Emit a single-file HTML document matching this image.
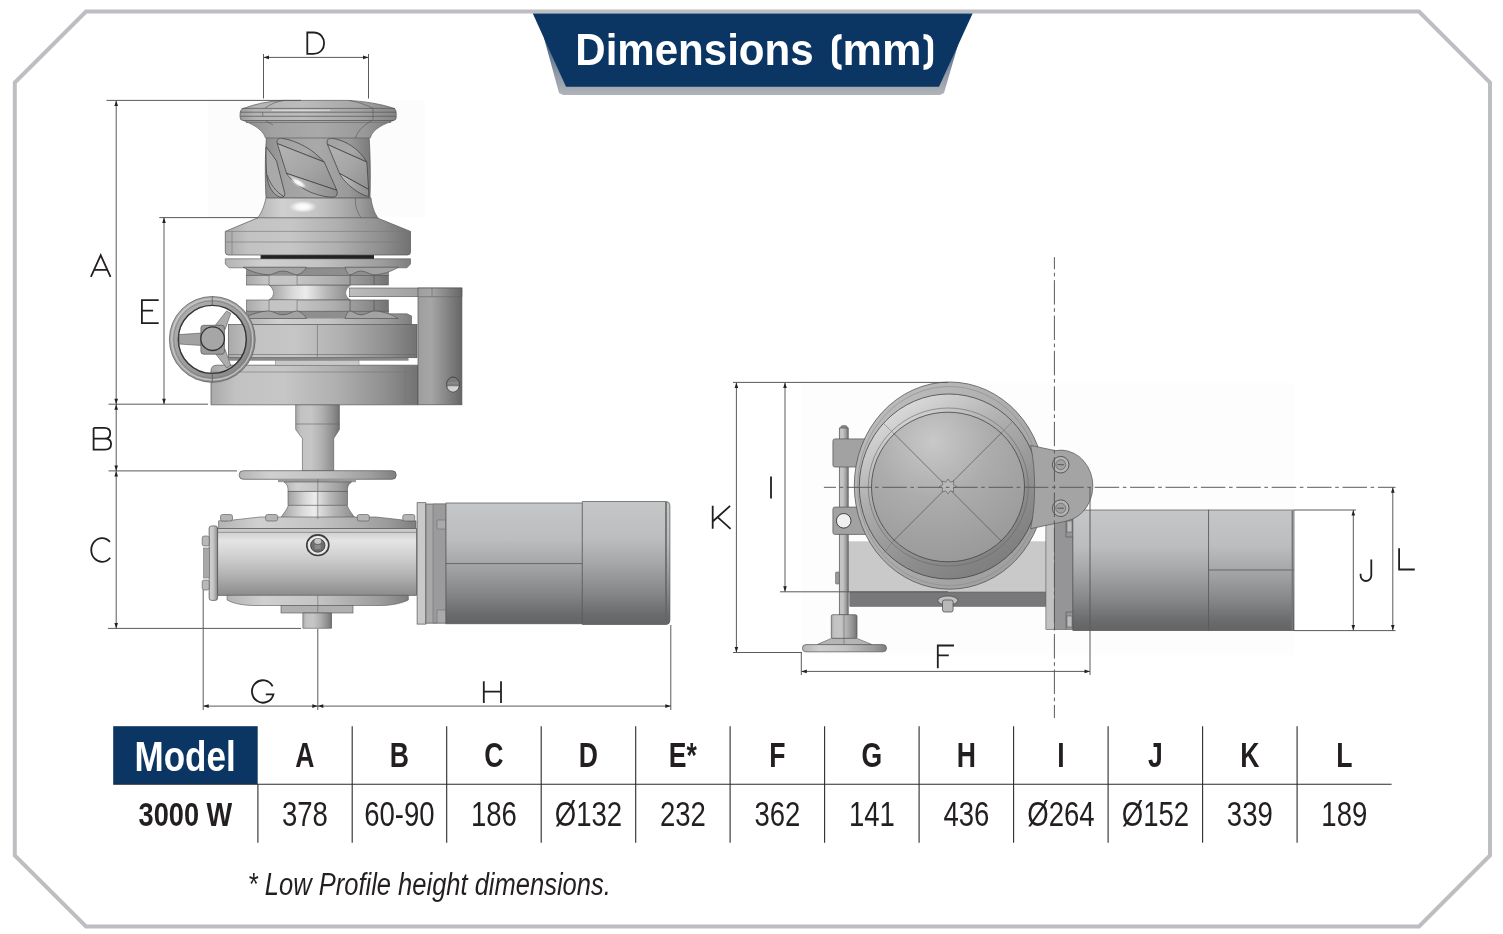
<!DOCTYPE html>
<html><head><meta charset="utf-8"><title>Dimensions (mm)</title>
<style>
html,body{margin:0;padding:0;background:#fff;}
body{width:1503px;height:934px;overflow:hidden;position:relative;font-family:"Liberation Sans",sans-serif;}
svg{position:absolute;left:0;top:0;will-change:transform;}
</style></head>
<body>
<svg width="1503" height="934" viewBox="0 0 1503 934" font-family="Liberation Sans, sans-serif">
<defs>
 <linearGradient id="hdrsh" x1="0" y1="0" x2="0" y2="1">
  <stop offset="0" stop-color="#3a5a80"/><stop offset="0.6" stop-color="#8c96a4"/><stop offset="1" stop-color="#b0b3b9"/>
 </linearGradient>
<!--DEFS--> <linearGradient id="gH" x1="0" y1="0" x2="1" y2="0">
  <stop offset="0" stop-color="#a9a9a9"/><stop offset="0.12" stop-color="#c2c2c2"/><stop offset="0.35" stop-color="#c6c6c6"/><stop offset="0.6" stop-color="#b0b0b0"/><stop offset="0.85" stop-color="#8e8e8e"/><stop offset="1" stop-color="#727272"/>
 </linearGradient>
 <linearGradient id="gH2" x1="0" y1="0" x2="1" y2="0">
  <stop offset="0" stop-color="#b4b4b4"/><stop offset="0.2" stop-color="#d0d0d0"/><stop offset="0.5" stop-color="#c4c4c4"/><stop offset="0.85" stop-color="#9c9c9c"/><stop offset="1" stop-color="#7e7e7e"/>
 </linearGradient>
 <linearGradient id="gH3" x1="0" y1="0" x2="1" y2="0">
  <stop offset="0" stop-color="#a0a0a0"/><stop offset="0.3" stop-color="#dadada"/><stop offset="0.45" stop-color="#ececec"/><stop offset="0.7" stop-color="#b8b8b8"/><stop offset="1" stop-color="#8a8a8a"/>
 </linearGradient>
 <linearGradient id="gDrum" x1="0" y1="0" x2="1" y2="0">
  <stop offset="0" stop-color="#8c8c8c"/><stop offset="0.2" stop-color="#a2a2a2"/><stop offset="0.5" stop-color="#a9a9a9"/><stop offset="0.8" stop-color="#999"/><stop offset="1" stop-color="#7a7a7a"/>
 </linearGradient>
 <linearGradient id="gBox" x1="0" y1="0" x2="0" y2="1">
  <stop offset="0" stop-color="#c6c6c6"/><stop offset="0.18" stop-color="#e4e4e4"/><stop offset="0.4" stop-color="#d2d2d2"/><stop offset="0.7" stop-color="#b2b2b2"/><stop offset="1" stop-color="#8c8c8c"/>
 </linearGradient>
 <linearGradient id="gMot" x1="0" y1="0" x2="0" y2="1">
  <stop offset="0" stop-color="#c5c6c8"/><stop offset="0.3" stop-color="#bcbdbf"/><stop offset="0.5" stop-color="#a6a7a9"/><stop offset="0.75" stop-color="#858688"/><stop offset="0.92" stop-color="#6a6b6d"/><stop offset="1" stop-color="#636466"/>
 </linearGradient>
 <linearGradient id="gArm" x1="0" y1="0" x2="1" y2="0">
  <stop offset="0" stop-color="#bdbdbd"/><stop offset="1" stop-color="#8e8e8e"/>
 </linearGradient>
 <linearGradient id="gBr" x1="0" y1="0" x2="1" y2="0">
  <stop offset="0" stop-color="#9e9e9e"/><stop offset="0.3" stop-color="#a6a6a6"/><stop offset="1" stop-color="#666"/>
 </linearGradient>
 <linearGradient id="gRing" x1="0" y1="0" x2="1" y2="1">
  <stop offset="0" stop-color="#b4b4b4"/><stop offset="0.5" stop-color="#9c9c9c"/><stop offset="1" stop-color="#848484"/>
 </linearGradient>
 <radialGradient id="gDome" cx="0.4" cy="0.2" r="0.85">
  <stop offset="0" stop-color="#c8c8c8"/><stop offset="0.45" stop-color="#acacac"/><stop offset="1" stop-color="#989898"/>
 </radialGradient>
 <linearGradient id="gLip" x1="0.2" y1="0" x2="0.8" y2="1">
  <stop offset="0" stop-color="#e2e2e2"/><stop offset="0.35" stop-color="#b0b0b0"/><stop offset="0.7" stop-color="#8e8e8e"/><stop offset="1" stop-color="#7a7a7a"/>
 </linearGradient>
 <linearGradient id="gOuter" x1="0" y1="0" x2="1" y2="1">
  <stop offset="0" stop-color="#c0c0c0"/><stop offset="0.5" stop-color="#acacac"/><stop offset="1" stop-color="#9a9a9a"/>
 </linearGradient>
 <linearGradient id="gLug" x1="0" y1="0" x2="1" y2="0">
  <stop offset="0" stop-color="#9a9a9a"/><stop offset="1" stop-color="#a8a8a8"/>
 </linearGradient>
 <linearGradient id="gRibU" x1="0" y1="0" x2="1" y2="1">
  <stop offset="0" stop-color="#a2a2a2"/><stop offset="0.6" stop-color="#a8a8a8"/><stop offset="1" stop-color="#8a8a8a"/>
 </linearGradient>
 <linearGradient id="gRibM" x1="0" y1="0" x2="1" y2="1">
  <stop offset="0" stop-color="#b4b4b4"/><stop offset="0.5" stop-color="#a6a6a6"/><stop offset="1" stop-color="#909090"/>
 </linearGradient>
 <linearGradient id="gRibL" x1="0" y1="0" x2="1" y2="0">
  <stop offset="0" stop-color="#c8c8c8"/><stop offset="0.5" stop-color="#a4a4a4"/><stop offset="1" stop-color="#8e8e8e"/>
 </linearGradient>
 <linearGradient id="gCap" x1="0" y1="0" x2="1" y2="0">
  <stop offset="0" stop-color="#9c9c9c"/><stop offset="0.1" stop-color="#b4b4b4"/><stop offset="0.4" stop-color="#bcbcbc"/><stop offset="0.75" stop-color="#a6a6a6"/><stop offset="1" stop-color="#858585"/>
 </linearGradient>
 <radialGradient id="gHi" cx="0.5" cy="0.5" r="0.5">
  <stop offset="0" stop-color="#fff" stop-opacity="1"/><stop offset="0.45" stop-color="#fff" stop-opacity="0.85"/><stop offset="1" stop-color="#fff" stop-opacity="0"/>
 </radialGradient>
<!--/DEFS-->
</defs>
<!-- frame -->
<polygon points="86,11.5 1419,11.5 1490,82.5 1490,855.5 1419,926.5 86,926.5 14.8,855.5 14.8,82.5" fill="none" stroke="#bcbec1" stroke-width="4"/>
<!-- header -->
<polygon id="hsh" points="544,38 960,38 944,93 940,95 563,95 559,93" fill="url(#hdrsh)"/>
<polygon points="532.8,13.5 972.6,13.5 939,86.8 566,86.8" fill="#0b3562"/>
<!--HDR--><g fill="#fff" font-size="45" font-weight="bold"><text x="575.3" y="65" textLength="238.3" lengthAdjust="spacingAndGlyphs">Dimensions</text><text x="842.6" y="65" textLength="79" lengthAdjust="spacingAndGlyphs">mm</text></g>
<path d="M841.6,36.7 Q834.6,36.7 834.6,44 V60 Q834.6,67.3 841.6,67.3 M923.5,36.7 Q930.5,36.7 930.5,44 V60 Q930.5,67.3 923.5,67.3" fill="none" stroke="#fff" stroke-width="5.3"/><!--/HDR-->

<!--DRAW--><g id="drawings">
<g id="left">
 <rect x="207.8" y="100.4" width="216.8" height="116.6" fill="#fcfcfc"/>
 <!-- shaft -->
 <path d="M295.7,404 H339.4 V429.5 L333.7,438.5 V471 H302.4 V438.5 L295.7,429.5 Z" fill="url(#gH)" stroke="#555" stroke-width="0.6"/>
 <path d="M295.7,424 H339.4" stroke="#666" stroke-width="0.6"/>
 <!-- deck flange -->
 <rect x="239.2" y="470.7" width="157" height="8.6" rx="4" fill="url(#gH2)" stroke="#555" stroke-width="0.7"/>
 <!-- neck -->
 <rect x="278" y="479.2" width="78" height="3" fill="#9a9a9a"/>
 <path d="M284,482 C288.5,485 288,489 288,491.4 H347.5 C347.5,489 347,485 351.5,482 Z" fill="url(#gH2)" stroke="#555" stroke-width="0.6"/>
 <rect x="288" y="491.4" width="59.5" height="13.9" fill="url(#gH3)" stroke="#555" stroke-width="0.6"/>
 <path d="M288.5,505.3 H347 C349,510 352,514 355.5,518.5 H280 C283.5,514 286.5,510 288.5,505.3 Z" fill="url(#gH3)" stroke="#555" stroke-width="0.6"/>
 <!-- gearbox top plate -->
 <path d="M226,520.8 L260,517 H376 L410,520.8 H416 V528.5 H218.6 V520.8 Z" fill="url(#gH2)" stroke="#555" stroke-width="0.6"/>
 <g fill="#b5b5b5" stroke="#555" stroke-width="0.6">
  <rect x="220.5" y="514.5" width="12" height="6.5" rx="2"/><rect x="265.6" y="514.5" width="12" height="6.5" rx="2"/>
  <rect x="357.3" y="514.5" width="12" height="6.5" rx="2"/><rect x="402.8" y="514.5" width="12" height="6.5" rx="2"/>
 </g>
 <!-- gearbox body -->
 <rect x="217.6" y="528.5" width="199" height="66.8" fill="url(#gBox)" stroke="#555" stroke-width="0.7"/>
 <path d="M218,532.3 H416" stroke="#666" stroke-width="0.6"/>
 <ellipse cx="317.8" cy="545.2" rx="11" ry="10.3" fill="#e2e2e2" stroke="#3a3a3a" stroke-width="1.6"/>
 <ellipse cx="317.8" cy="545.2" rx="8.6" ry="8" fill="none" stroke="#f4f4f4" stroke-width="1"/>
 <ellipse cx="317.8" cy="545.4" rx="7.2" ry="6.8" fill="#6e6e6e" stroke="#333" stroke-width="0.8"/>
 <ellipse cx="317.8" cy="541.3" rx="3.4" ry="2.7" fill="#c6c6c6"/>
 <path d="M314.8,545 H320.8 V549 H314.8 Z" fill="#8a8a8a"/>
 <!-- end cap -->
 <rect x="209.1" y="525.9" width="8.5" height="74.5" rx="2.5" fill="url(#gH2)" stroke="#555" stroke-width="0.7"/>
 <rect x="202.2" y="536" width="7" height="10" rx="2" fill="#b8b8b8" stroke="#555" stroke-width="0.6"/>
 <rect x="202.2" y="580" width="7" height="10" rx="2" fill="#b8b8b8" stroke="#555" stroke-width="0.6"/>
 <rect x="203.5" y="548" width="5.7" height="30" fill="#a8a8a8" stroke="#666" stroke-width="0.5"/>
 <!-- bottom dish -->
 <path d="M227.1,595.3 H408.3 V600 C400,604 390,605.5 380,605.5 H255 C245,605.5 234,604 227.1,600 Z" fill="url(#gH2)" stroke="#555" stroke-width="0.6"/>
 <rect x="281" y="605.5" width="72" height="7.5" fill="#b0b0b0" stroke="#555" stroke-width="0.6"/>
 <rect x="302.9" y="613" width="28.8" height="15.2" fill="url(#gH)" stroke="#555" stroke-width="0.6"/>
 <path d="M317.8,479 V519 M317.8,595.3 V613" stroke="#666" stroke-width="0.6"/>
 <!-- motor -->
 <rect x="417.1" y="502.7" width="8.8" height="121.4" fill="#c9c9c9" stroke="#555" stroke-width="0.7"/>
 <path d="M425.9,504 H446 V623.2 H425.9 Z" fill="#a9a9ab" stroke="#555" stroke-width="0.7"/>
 <path d="M433,504 H446 V520 H437 V529 H446 V610 H437 V623 H433Z" fill="#9b9b9d" stroke="#666" stroke-width="0.5"/>
 <rect x="446" y="503" width="136.3" height="120.8" fill="url(#gMot)" stroke="#555" stroke-width="0.7"/>
 <path d="M446,563.6 H582.3" stroke="#555" stroke-width="0.8"/>
 <path d="M582.3,501.5 H666 Q669.9,501.5 669.9,505.5 V620.5 Q669.9,624.5 666,624.5 H582.3 Z" fill="url(#gMot)" stroke="#555" stroke-width="0.7"/>
 <path d="M666,502 V624" stroke="#666" stroke-width="1.6"/>

 <!-- ===== upper winch ===== -->
 <!-- base -->
 <path d="M211,371 Q211,365.2 217,365.2 H418 V404.8 H211 Z" fill="url(#gH)" stroke="#555" stroke-width="0.7"/>
 <path d="M211,372 H418 M405,365.2 V404.8" stroke="#777" stroke-width="0.6"/>
 <!-- thin gap parts -->
 <rect x="228.5" y="357.7" width="180" height="3" fill="#8a8a8a"/>
 <rect x="275.6" y="360.5" width="83.4" height="4.7" fill="#c8c8c8" stroke="#777" stroke-width="0.5"/>
 <!-- main ring -->
 <rect x="228.5" y="324.5" width="188.5" height="33.2" fill="url(#gH)" stroke="#555" stroke-width="0.7"/>
 <path d="M317.4,324.5 V357.7 M228.5,354.5 H417" stroke="#666" stroke-width="0.6"/>
 <!-- lower plate -->
 <path d="M245.6,316 L250,313.8 H407 L411.5,316 V324.5 H245.6 Z" fill="url(#gH2)" stroke="#555" stroke-width="0.6"/>
 <!-- gypsy -->
 <rect x="246" y="267" width="143" height="9" fill="#8e8e8e"/>
 <rect x="246" y="310" width="143" height="8.5" fill="#8e8e8e"/>
 <path d="M269,285 C275,290 275,296 269,300 H350.5 C344,296 344,290 350.5,285 Z" fill="url(#gH3)" stroke="#666" stroke-width="0.6"/>
 <rect x="246.6" y="275.3" width="141.7" height="9.7" fill="url(#gH)" stroke="#555" stroke-width="0.6"/>
 <rect x="246.6" y="300" width="141.7" height="11.2" fill="url(#gH)" stroke="#555" stroke-width="0.6"/>
 <path d="M269.2,275.3 V285 M296.9,275.3 V285 M350.1,275.3 V285 M374.1,275.3 V285 M269.2,300 V311.2 M296.9,300 V311.2 M350.1,300 V311.2 M374.1,300 V311.2" stroke="#555" stroke-width="0.7"/>
 <rect x="269.2" y="275.3" width="27.7" height="9.7" fill="#c4c4c4" opacity="0.6"/>
 <rect x="269.2" y="300" width="27.7" height="11.2" fill="#c4c4c4" opacity="0.6"/>
 <!-- plate -->
 <path d="M225.3,258.8 H410.5 V264 L407,267.8 H229 L225.3,264 Z" fill="url(#gH2)" stroke="#555" stroke-width="0.6"/>
 <g fill="#a3a3a3" stroke="#4a4a4a" stroke-width="0.6">
  <path d="M243.3,267.2 H306.5 C304,271.5 300,274.6 296.5,274.8 C293,274.8 289,271 283,271 C277,271 273,274.8 269,274.8 C262,274.8 250,271.5 243.3,267.2 Z"/>
  <path d="M345,267.2 H398.3 C392,271.5 381,274.8 374,274.8 C370,274.8 366,271 361,271 C356,271 353,274.8 350,274.8 C348,274.8 346,271 345,267.2 Z"/>
  <path d="M243.3,318.5 H306.5 C304,314.2 300,311.2 296.5,311 C293,311 289,314.8 283,314.8 C277,314.8 273,311 269,311 C262,311 250,314.2 243.3,318.5 Z"/>
  <path d="M345,318.5 H398.3 C392,314.2 381,311 374,311 C370,311 366,314.8 361,314.8 C356,314.8 353,311 350,311 C348,311 346,314.8 345,318.5 Z"/>
 </g>
 <!-- dark gap -->
 <rect x="260.6" y="255" width="113.4" height="3.8" fill="#222"/>
 <!-- base cone + band -->
 <path d="M258.5,217.5 H376.2 L410.5,231.4 V252 Q410.5,255 407.5,255 H228.3 Q225.3,255 225.3,252 V231.4 Z" fill="url(#gH)" stroke="#555" stroke-width="0.7"/>
 <path d="M225.3,231.4 H410.5 M225.3,242 H410.5 M232,231.4 V255" stroke="#777" stroke-width="0.6"/>
 <!-- lower flare -->
 <path d="M266,197.8 H371 C372,207 375,214 378,217.8 H257.5 C261,214 264,207 266,197.8 Z" fill="url(#gH2)" stroke="#555" stroke-width="0.6"/>
 <path d="M355.5,197.8 C354.8,205 357,212 361,217.6" stroke="#555" stroke-width="0.6" fill="none"/>
 <ellipse cx="303" cy="206.8" rx="14" ry="6" fill="url(#gHi)"/>
 <!-- drum -->
 <path d="M266.5,136.3 H369 C370.5,155 370.5,180 370,197.8 H266 C265,180 265,155 266.5,136.3 Z" fill="url(#gDrum)" stroke="#555" stroke-width="0.7"/>
 <g stroke="#3a3a3a" stroke-width="0.7">
  <!-- rib 0 partial -->
  <path d="M266.2,147 C270,152 274,157 276.5,161 L284.6,192.5 C285.6,196.5 283,198 279.5,197 C273,194.5 268.5,187 266.8,176 C266,165 265.8,155 266.2,147 Z" fill="#a9a9a9"/>
  <path d="M267.2,175 C270,184 276,192 284,196.7" fill="none"/>
  <!-- rib 1 -->
  <path d="M277.3,143.6 C276.2,140 278,137.8 281.5,138.2 C297,140.5 314,150 324.3,162.1 Z" fill="url(#gRibU)"/>
  <path d="M277.3,143.6 L324.3,162.1 L336.8,190.3 L286.5,173.4 Z" fill="url(#gRibM)"/>
  <path d="M286.5,173.4 C291,180 298,186 309,191.5 C318,195.5 327,197.2 333,197.2 C336.8,197 338,194 336.8,190.3 Z" fill="url(#gRibL)"/>
  <!-- rib 2 -->
  <path d="M327.5,144.5 C326.2,140.5 328,137.9 331.8,138.2 C346,140 360,150 366.8,162.1 Z" fill="url(#gRibU)"/>
  <path d="M327.5,144.5 L366.8,162.1 L368.6,189.4 L339.5,173.4 Z" fill="url(#gRibM)"/>
  <path d="M339.5,173.4 C343,180 350,187 358,192 C362,194.5 366,196 368.8,196.5 L368.6,189.4 Z" fill="url(#gRibL)"/>
 </g>
 <ellipse cx="298.5" cy="183" rx="9" ry="3.4" transform="rotate(30 298.5 183)" fill="url(#gHi)"/>
 <!-- upper flare -->
 <path d="M243,120.3 H394 C385,124 373,128 370.2,138 H265.5 C262,128 251,124 243,120.3 Z" fill="url(#gDrum)" stroke="#555" stroke-width="0.6"/>
 <path d="M246,122.5 H391" stroke="#7a7a7a" stroke-width="1.2"/>
 <path d="M266,121 L273,125 M372.4,120.5 C365,124 358,130 355.5,138" stroke="#555" stroke-width="0.6" fill="none"/>
 <!-- cap -->
 <path d="M242.9,108.6 C255,104 268,101.2 283,100.4 H348 C363,101.2 382,104 394.5,108.6 Q396.2,110 396.2,113 V117.5 Q396.2,120.5 393,120.5 H243.3 Q240.1,120.5 240.1,117.5 V113 Q240.1,110 242.9,108.6 Z" fill="url(#gCap)" stroke="#555" stroke-width="0.7"/>
 <path d="M241.5,108.4 H395 M240.3,112.2 H396 M240.3,116.3 H396" stroke="#555" stroke-width="0.7"/>
 <path d="M272,110.3 H330" stroke="#eeeeee" stroke-width="1" opacity="0.7"/>
 <path d="M265,108.3 C270,104 277,101.5 283.6,100.6 M349.3,100.5 C358,102 367,105 373,108.3 V120 M262.7,112.2 V116.3" stroke="#555" stroke-width="0.6" fill="none"/>
 <!-- bracket -->
 <rect x="349.5" y="288" width="112.4" height="8.7" fill="url(#gArm)" stroke="#555" stroke-width="0.6"/>
 <rect x="418" y="288" width="43.9" height="116.8" fill="url(#gBr)" stroke="#555" stroke-width="0.7"/>
 <path d="M418,296.7 H461.9 M432,288 V296.7" stroke="#666" stroke-width="0.6"/>
 <ellipse cx="453" cy="384.5" rx="6.4" ry="7.5" fill="#7c7c7c" stroke="#444" stroke-width="1"/>
 <path d="M447.3,386.3 H458.7 C458,390 456,391.7 453,391.7 C450,391.7 448,390 447.3,386.3 Z" fill="#d2d2d2"/>
 <path d="M447.2,383 H458.8" stroke="#999" stroke-width="0.8"/>
 <!-- handwheel -->
 <circle cx="212.3" cy="339.4" r="38.3" fill="none" stroke="url(#gRing)" stroke-width="9.4"/>
 <circle cx="212.3" cy="339.4" r="42.9" fill="none" stroke="#666" stroke-width="0.8"/>
 <circle cx="212.3" cy="339.4" r="34" fill="none" stroke="#333" stroke-width="1.4"/>
 <circle cx="212.3" cy="339.4" r="40.5" fill="none" stroke="#d0d0d0" stroke-width="1.2" opacity="0.8"/>
 <circle cx="212.3" cy="339.4" r="38.6" fill="none" stroke="#777" stroke-width="0.6"/>
 <path d="M212.3,296.5 V306 M212.3,373 V382.5" stroke="#555" stroke-width="0.7"/>
 <g fill="#acacac" stroke="#555" stroke-width="0.6">
  <path d="M179,334.6 L202,333 V345.5 L179,344 Z" fill="#a2a2a2"/>
  <path d="M215.3,325.3 L226.6,310.9 L230.8,313.3 L225,329.6 Z"/>
  <path d="M215.3,353.4 L226.6,367.9 L230.8,365.5 L225,349.2 Z"/>
 </g>
 <path d="M203.5,325.3 H222 Q224.4,325.3 224.4,328 V351.5 Q224.4,354.2 222,354.2 H203.5 Q200.9,354.2 200.9,351.5 V328 Q200.9,325.3 203.5,325.3 Z" fill="#9a9a9a" stroke="#555" stroke-width="0.7"/>
 <circle cx="212.6" cy="338.7" r="11.8" fill="#a6a6a6" stroke="#333" stroke-width="1.3"/>
</g>
<g id="right">
 <rect x="801.8" y="383" width="492.2" height="272" fill="#fdfdfd"/>
 <!-- base plate region -->
 <rect x="848" y="541.3" width="199" height="50.9" fill="#c9c9c9"/>
 <rect x="849.8" y="592" width="197" height="14.4" fill="#78787a" stroke="#555" stroke-width="0.5"/>
 <!-- post -->
 <rect x="840.5" y="425.5" width="7" height="6" rx="2.5" fill="#8a8a8a" stroke="#555" stroke-width="0.5"/>
 <rect x="839.3" y="428" width="8.9" height="187" fill="url(#gH)" stroke="#555" stroke-width="0.7"/>
 <rect x="835.5" y="572" width="3.8" height="12" rx="1" fill="#999" stroke="#555" stroke-width="0.5"/>
 <!-- foot -->
 <rect x="831.3" y="614.7" width="25.7" height="23.7" rx="1.5" fill="url(#gH)" stroke="#555" stroke-width="0.7"/>
 <path d="M831.3,638.4 H857 L872,644.6 H817 Z" fill="#b5b5b5" stroke="#555" stroke-width="0.6"/>
 <path d="M844,614.7 V651" stroke="#666" stroke-width="0.6"/>
 <rect x="802.4" y="644.6" width="84.1" height="7.2" rx="3.6" fill="url(#gH2)" stroke="#555" stroke-width="0.7"/>
 <!-- bracket tabs -->
 <path d="M832.9,441 Q832.9,438.9 835,438.9 H872 V480 H857 V467 H835 Q832.9,467 832.9,465 Z" fill="#a2a2a2" stroke="#555" stroke-width="0.7"/>
 <path d="M832.9,509.2 Q832.9,507.1 835,507.1 H857 V495 H872 V534.4 H835 Q832.9,534.4 832.9,532.3 Z" fill="#a2a2a2" stroke="#555" stroke-width="0.7"/>
 <circle cx="843.7" cy="520.8" r="7.3" fill="#f0f0f0" stroke="#333" stroke-width="0.9"/>
 <!-- right plate -->
 <rect x="1045.9" y="523.5" width="8.7" height="105.9" fill="#c2c2c2" stroke="#555" stroke-width="0.6"/>
 <rect x="1054.6" y="519.6" width="18.3" height="109.8" fill="#959597" stroke="#555" stroke-width="0.6"/>
 <path d="M1066,519.6 V537 H1072.9 M1066,629.4 V612 H1072.9" fill="none" stroke="#555" stroke-width="0.6"/>
 <rect x="1067" y="521" width="5" height="11" fill="#bdbdbd" stroke="#555" stroke-width="0.5"/>
 <rect x="1067" y="616" width="5" height="11" fill="#bdbdbd" stroke="#555" stroke-width="0.5"/>
 <!-- motor -->
 <rect x="1072.9" y="510" width="135.8" height="120.6" fill="url(#gMot)" stroke="#555" stroke-width="0.7"/>
 <rect x="1208.7" y="510" width="85.3" height="120.6" fill="url(#gMot)" stroke="#555" stroke-width="0.7"/>
 <path d="M1208.7,570 H1294" stroke="#555" stroke-width="0.8"/>
 <path d="M1292.3,510.5 V630" stroke="#777" stroke-width="1.4"/>
 <!-- drum -->
 <ellipse cx="949.6" cy="485.6" rx="95.3" ry="103.6" fill="url(#gOuter)" stroke="#555" stroke-width="0.8"/>
 <ellipse cx="949.3" cy="486" rx="91.5" ry="99.5" fill="none" stroke="#8a8a8a" stroke-width="0.6"/>
 <ellipse cx="948.8" cy="486.5" rx="89.5" ry="92.5" fill="url(#gLip)" stroke="#444" stroke-width="0.8"/>
 <ellipse cx="948.3" cy="487" rx="80" ry="79" fill="none" stroke="#666" stroke-width="0.6"/>
 <ellipse cx="948" cy="487" rx="76.5" ry="74.8" fill="url(#gDome)" stroke="#444" stroke-width="0.8"/>
 <path d="M893.2,432.8 L1001.5,541.2 M1001.5,432.8 L893.2,541.2" stroke="#555" stroke-width="0.7"/>
 <path d="M883,423 L893.2,432.8 M1013,421 L1001.5,432.8 M884,553 L893.2,541.2 M1013,553 L1001.5,541.2" stroke="#777" stroke-width="0.6"/>
 <path d="M948,479 l2.2,3.2 3.6,-1.2 -0.5,3.8 3.4,1.7 -3.4,1.7 0.5,3.8 -3.6,-1.2 -2.2,3.2 -2.2,-3.2 -3.6,1.2 0.5,-3.8 -3.4,-1.7 3.4,-1.7 -0.5,-3.8 3.6,1.2z" fill="#b8b8b8" stroke="#555" stroke-width="0.6"/>
 <!-- lug -->
 <path d="M1030.6,445.4 L1055.3,450.6 A32,35.5 0 0 1 1065.9,521.2 L1030.6,528.7 C1036,505 1036,470 1030.6,445.4 Z" fill="#a4a4a4" stroke="#555" stroke-width="0.7"/>
 <g>
  <circle cx="1060.7" cy="464.7" r="8.3" fill="#b4b4b4" stroke="#444" stroke-width="0.8"/>
  <circle cx="1060.7" cy="464.7" r="5" fill="#a0a0a0" stroke="#555" stroke-width="0.6"/>
  <path d="M1057.5,464.7 h6.4" stroke="#555" stroke-width="1"/>
  <circle cx="1060.7" cy="508.2" r="8.3" fill="#b4b4b4" stroke="#444" stroke-width="0.8"/>
  <circle cx="1060.7" cy="508.2" r="5" fill="#a0a0a0" stroke="#555" stroke-width="0.6"/>
  <path d="M1057.5,508.2 h6.4" stroke="#555" stroke-width="1"/>
 </g>
 <!-- bottom bolt -->
 <ellipse cx="947.8" cy="600.5" rx="10" ry="4.5" fill="#c0c0c0" stroke="#444" stroke-width="0.7"/>
 <rect x="942.5" y="600" width="10.6" height="12" rx="2" fill="#b8b8b8" stroke="#444" stroke-width="0.7"/>
</g>
</g><!--/DRAW-->
<!--DIMS--><g id="dims">
<g stroke="#5a5a5a" stroke-width="1" fill="none">
 <!-- left drawing -->
 <path d="M106.5,100.4 H301 M116.2,100.4 V628.4 M108.5,404.2 H208 M108.5,470.9 H237 M108,628.4 H301 M159.3,217.6 H258 M164,217.6 V404.2"/>
 <path d="M263.5,54 V98.5 M368.5,54 V98.5 M263.5,57.4 H368.5"/>
 <path d="M203.2,590 V710 M317.8,629 V710 M670.8,625 V710 M203.2,706.1 H670.8"/>
 <!-- right drawing -->
 <path d="M733,382.4 H948 M736.4,382.4 V652.5 M733,652.5 H802 M785,382.4 V591.8 M780,591.8 H948"/>
 <path d="M801.3,652 V675 M1090,487.3 V675 M801.3,671.4 H1090"/>
 <path d="M1294,510 H1356 M1294,630.6 H1395.5 M1353.3,510 V630.6 M1392.8,487.3 V630.6"/>
 <path d="M823.9,487.3 H1395.5 M1054.4,257.1 V718" stroke-dasharray="24.5 3.6 3.6 3.7" stroke-dashoffset="12.4"/>
</g>
<g fill="#222">
 <path d="M116.2,100.4 l-1.8,5.5 h3.6z M116.2,404.2 l-1.8,-5.5 h3.6z M116.2,404.2 l-1.8,5.5 h3.6z M116.2,470.9 l-1.8,-5.5 h3.6z M116.2,470.9 l-1.8,5.5 h3.6z M116.2,628.4 l-1.8,-5.5 h3.6z"/>
 <path d="M164,217.6 l-1.8,5.5 h3.6z M164,404.2 l-1.8,-5.5 h3.6z"/>
 <path d="M263.5,57.4 l5.5,-1.8 v3.6z M368.5,57.4 l-5.5,-1.8 v3.6z"/>
 <path d="M203.2,706.1 l5.5,-1.8 v3.6z M317.8,706.1 l-5.5,-1.8 v3.6z M317.8,706.1 l5.5,-1.8 v3.6z M670.8,706.1 l-5.5,-1.8 v3.6z"/>
 <path d="M736.4,382.4 l-1.8,5.5 h3.6z M736.4,652.5 l-1.8,-5.5 h3.6z M785,382.4 l-1.8,5.5 h3.6z M785,591.8 l-1.8,-5.5 h3.6z"/>
 <path d="M801.3,671.4 l5.5,-1.8 v3.6z M1090,671.4 l-5.5,-1.8 v3.6z"/>
 <path d="M1353.3,510 l-1.8,5.5 h3.6z M1353.3,630.6 l-1.8,-5.5 h3.6z M1392.8,487.3 l-1.8,5.5 h3.6z M1392.8,630.6 l-1.8,-5.5 h3.6z"/>
</g>
<g stroke="#231f20" stroke-width="1.8" fill="none" stroke-linejoin="miter">
 <path d="M90.9,276.9 L100.7,255.2 L110.5,276.9 M94,269.8 H107.3"/>
 <path d="M158.7,300.1 H141.9 V323.1 H158.7 M141.9,310.7 H153.1"/>
 <path d="M93.6,427.9 V449.6 H105 C109.5,449.6 111.1,446.8 111.1,444 C111.1,441 109.2,438.6 105,438.6 H93.6 M105,438.6 C108.6,438.6 110.2,436.2 110.2,433.3 C110.2,430.2 108.3,427.9 104.4,427.9 H93.6"/>
 <path d="M109.9,541.8 A10.8,11.9 0 1 0 110.2,557.8"/>
 <path d="M307.3,32.5 V53.8 H313.5 C320.6,53.8 324.1,48.6 324.1,43.2 C324.1,37.8 320.6,32.5 313.5,32.5 Z"/>
 <path d="M272.6,686.4 A10.9,11.2 0 1 0 273.4,694.4 H265.8"/>
 <path d="M483.8,681.2 V702.9 M501,681.2 V702.9 M483.8,691.6 H501"/>
 <path d="M954,645.5 H937.8 V668.3 M937.8,655.3 H948.8"/>
 <path d="M771,476.6 V498.4"/>
 <path d="M712.7,505.7 V528.8 M730.1,505.9 L712.7,521.5 M717.6,517.2 L730.6,528.8"/>
 <path d="M1371.3,559.4 V575.6 A5.35,5.4 0 0 1 1360.6,575.6 V573.8"/>
 <path d="M1399.1,548.2 V569.5 H1414.8"/>
</g>
</g><!--/DIMS-->

<!-- table -->
<rect x="113.2" y="726.2" width="144.5" height="58" fill="#0b3562"/>
<!--TABLE--><g id="table">
<line x1="113.2" y1="784.3" x2="1391.6" y2="784.3" stroke="#2d2a2b" stroke-width="1.1"/>
<line x1="257.9" y1="784.3" x2="257.9" y2="842.8" stroke="#2d2a2b" stroke-width="1.1"/>
<line x1="352.2" y1="726.3" x2="352.2" y2="842.8" stroke="#2d2a2b" stroke-width="1.1"/>
<line x1="446.7" y1="726.3" x2="446.7" y2="842.8" stroke="#2d2a2b" stroke-width="1.1"/>
<line x1="541.2" y1="726.3" x2="541.2" y2="842.8" stroke="#2d2a2b" stroke-width="1.1"/>
<line x1="635.7" y1="726.3" x2="635.7" y2="842.8" stroke="#2d2a2b" stroke-width="1.1"/>
<line x1="730.1" y1="726.3" x2="730.1" y2="842.8" stroke="#2d2a2b" stroke-width="1.1"/>
<line x1="824.6" y1="726.3" x2="824.6" y2="842.8" stroke="#2d2a2b" stroke-width="1.1"/>
<line x1="919.1" y1="726.3" x2="919.1" y2="842.8" stroke="#2d2a2b" stroke-width="1.1"/>
<line x1="1013.6" y1="726.3" x2="1013.6" y2="842.8" stroke="#2d2a2b" stroke-width="1.1"/>
<line x1="1108.1" y1="726.3" x2="1108.1" y2="842.8" stroke="#2d2a2b" stroke-width="1.1"/>
<line x1="1202.6" y1="726.3" x2="1202.6" y2="842.8" stroke="#2d2a2b" stroke-width="1.1"/>
<line x1="1297.1" y1="726.3" x2="1297.1" y2="842.8" stroke="#2d2a2b" stroke-width="1.1"/>
<g fill="#fff" font-weight="bold" font-size="43"><text transform="translate(185.1,771.1) scale(0.815,1)" text-anchor="middle">Model</text></g>
<g fill="#231f20" font-weight="bold" font-size="34"><text transform="translate(185.4,825.6) scale(0.80,1)" text-anchor="middle">3000 W</text></g>
<text fill="#231f20" font-weight="bold" font-size="35" transform="translate(304.9,766.9) scale(0.76,1)" text-anchor="middle">A</text>
<text fill="#231f20" font-size="36" transform="translate(304.9,825.9) scale(0.765,1)" text-anchor="middle">378</text>
<text fill="#231f20" font-weight="bold" font-size="35" transform="translate(399.4,766.9) scale(0.76,1)" text-anchor="middle">B</text>
<text fill="#231f20" font-size="36" transform="translate(399.4,825.9) scale(0.765,1)" text-anchor="middle">60-90</text>
<text fill="#231f20" font-weight="bold" font-size="35" transform="translate(493.9,766.9) scale(0.76,1)" text-anchor="middle">C</text>
<text fill="#231f20" font-size="36" transform="translate(493.9,825.9) scale(0.765,1)" text-anchor="middle">186</text>
<text fill="#231f20" font-weight="bold" font-size="35" transform="translate(588.4,766.9) scale(0.76,1)" text-anchor="middle">D</text>
<text fill="#231f20" font-size="36" transform="translate(588.4,825.9) scale(0.765,1)" text-anchor="middle">Ø132</text>
<text fill="#231f20" font-weight="bold" font-size="35" transform="translate(682.9,766.9) scale(0.76,1)" text-anchor="middle">E*</text>
<text fill="#231f20" font-size="36" transform="translate(682.9,825.9) scale(0.765,1)" text-anchor="middle">232</text>
<text fill="#231f20" font-weight="bold" font-size="35" transform="translate(777.4,766.9) scale(0.76,1)" text-anchor="middle">F</text>
<text fill="#231f20" font-size="36" transform="translate(777.4,825.9) scale(0.765,1)" text-anchor="middle">362</text>
<text fill="#231f20" font-weight="bold" font-size="35" transform="translate(871.9,766.9) scale(0.76,1)" text-anchor="middle">G</text>
<text fill="#231f20" font-size="36" transform="translate(871.9,825.9) scale(0.765,1)" text-anchor="middle">141</text>
<text fill="#231f20" font-weight="bold" font-size="35" transform="translate(966.4,766.9) scale(0.76,1)" text-anchor="middle">H</text>
<text fill="#231f20" font-size="36" transform="translate(966.4,825.9) scale(0.765,1)" text-anchor="middle">436</text>
<text fill="#231f20" font-weight="bold" font-size="35" transform="translate(1060.9,766.9) scale(0.76,1)" text-anchor="middle">I</text>
<text fill="#231f20" font-size="36" transform="translate(1060.9,825.9) scale(0.765,1)" text-anchor="middle">Ø264</text>
<text fill="#231f20" font-weight="bold" font-size="35" transform="translate(1155.4,766.9) scale(0.76,1)" text-anchor="middle">J</text>
<text fill="#231f20" font-size="36" transform="translate(1155.4,825.9) scale(0.765,1)" text-anchor="middle">Ø152</text>
<text fill="#231f20" font-weight="bold" font-size="35" transform="translate(1249.8,766.9) scale(0.76,1)" text-anchor="middle">K</text>
<text fill="#231f20" font-size="36" transform="translate(1249.8,825.9) scale(0.765,1)" text-anchor="middle">339</text>
<text fill="#231f20" font-weight="bold" font-size="35" transform="translate(1344.3,766.9) scale(0.76,1)" text-anchor="middle">L</text>
<text fill="#231f20" font-size="36" transform="translate(1344.3,825.9) scale(0.765,1)" text-anchor="middle">189</text>
</g><!--/TABLE-->
<text x="247.8" y="894.6" font-size="31" font-style="italic" fill="#231f20" textLength="363" lengthAdjust="spacingAndGlyphs">* Low Profile height dimensions.</text>
</svg>
</body></html>
